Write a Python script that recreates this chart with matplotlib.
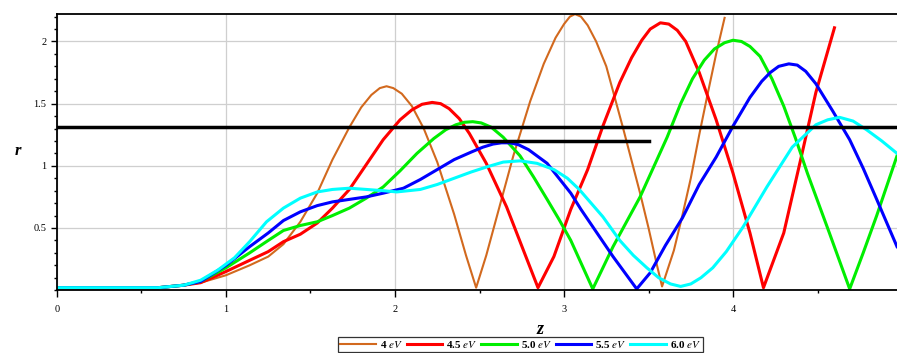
import matplotlib
matplotlib.use("Agg")
import matplotlib.pyplot as plt
from matplotlib.ticker import MultipleLocator

plt.rcParams['font.family'] = ['Liberation Serif', 'DejaVu Serif']
plt.rcParams['mathtext.fontset'] = 'stix'

# readings, z and r for each photon energy
z_40 = [0, 0.6, 0.75, 0.85, 1.0, 1.14, 1.25, 1.34, 1.44, 1.54, 1.63, 1.73, 1.80, 1.86, 1.91,
        1.95, 1.99, 2.04, 2.10, 2.17, 2.25, 2.35, 2.42, 2.48, 2.54, 2.60, 2.70, 2.80, 2.88,
        2.95, 3.00, 3.035, 3.065, 3.10, 3.14, 3.19, 3.25, 3.30, 3.35, 3.40, 3.45, 3.50, 3.55,
        3.58, 3.65, 3.70, 3.75, 3.80, 3.85, 3.90, 3.95]
r_40 = [0.02, 0.02, 0.04, 0.06, 0.12, 0.20, 0.27, 0.37, 0.55, 0.78, 1.05, 1.31, 1.47, 1.57, 1.625,
        1.64, 1.625, 1.58, 1.48, 1.30, 1.03, 0.61, 0.28, 0.02, 0.28, 0.58, 1.08, 1.52, 1.82,
        2.03, 2.14, 2.20, 2.22, 2.20, 2.13, 2.00, 1.80, 1.55, 1.30, 1.04, 0.78, 0.50, 0.20,
        0.03, 0.32, 0.60, 0.90, 1.25, 1.58, 1.90, 2.19]

z_45 = [0, 0.6, 0.75, 0.85, 1.0, 1.14, 1.25, 1.34, 1.44, 1.54, 1.63, 1.73, 1.83, 1.93, 2.03,
        2.10, 2.16, 2.22, 2.27, 2.32, 2.38, 2.44, 2.54, 2.66, 2.76, 2.846, 2.94, 3.04, 3.14,
        3.23, 3.33, 3.40, 3.46, 3.51, 3.57, 3.62, 3.67, 3.72, 3.80, 3.90, 4.00, 4.10, 4.18,
        4.30, 4.40, 4.49, 4.60]
r_45 = [0.02, 0.02, 0.04, 0.06, 0.15, 0.24, 0.31, 0.39, 0.45, 0.54, 0.66, 0.81, 1.01, 1.21, 1.37,
        1.45, 1.495, 1.51, 1.50, 1.46, 1.38, 1.26, 1.02, 0.67, 0.32, 0.02, 0.27, 0.65, 0.97,
        1.32, 1.67, 1.87, 2.01, 2.10, 2.15, 2.14, 2.09, 2.00, 1.75, 1.37, 0.94, 0.46, 0.02,
        0.46, 1.05, 1.59, 2.11]

z_50 = [0, 0.6, 0.75, 0.85, 1.0, 1.14, 1.25, 1.34, 1.44, 1.54, 1.63, 1.73, 1.83, 1.93, 2.03,
        2.13, 2.23, 2.30, 2.36, 2.41, 2.46, 2.51, 2.57, 2.64, 2.74, 2.82, 2.90, 2.97, 3.04,
        3.10, 3.17, 3.29, 3.45, 3.61, 3.69, 3.76, 3.83, 3.89, 3.95, 4.00, 4.05, 4.10, 4.16,
        4.23, 4.30, 4.37, 4.44, 4.57, 4.69, 4.77, 4.85, 4.97]
r_50 = [0.02, 0.02, 0.04, 0.07, 0.18, 0.30, 0.40, 0.48, 0.52, 0.55, 0.60, 0.66, 0.74, 0.83, 0.96,
        1.10, 1.22, 1.29, 1.33, 1.35, 1.355, 1.345, 1.31, 1.23, 1.08, 0.91, 0.73, 0.57, 0.40,
        0.22, 0.01, 0.35, 0.75, 1.23, 1.50, 1.70, 1.85, 1.94, 1.99, 2.01, 2.00, 1.96, 1.88,
        1.70, 1.48, 1.22, 0.94, 0.46, 0.01, 0.30, 0.60, 1.08]

z_55 = [0, 0.6, 0.75, 0.85, 1.0, 1.14, 1.25, 1.34, 1.44, 1.54, 1.63, 1.73, 1.83, 1.93, 2.05,
        2.15, 2.25, 2.35, 2.45, 2.52, 2.58, 2.63, 2.68, 2.73, 2.79, 2.85, 2.90, 2.97, 3.04,
        3.10, 3.17, 3.23, 3.29, 3.36, 3.43, 3.51, 3.60, 3.70, 3.80, 3.90, 4.00, 4.10, 4.17,
        4.22, 4.27, 4.33, 4.38, 4.43, 4.49, 4.59, 4.69, 4.77, 4.85, 4.97]
r_55 = [0.02, 0.02, 0.04, 0.07, 0.20, 0.35, 0.46, 0.56, 0.63, 0.68, 0.71, 0.73, 0.75, 0.78, 0.82,
        0.89, 0.97, 1.05, 1.11, 1.15, 1.175, 1.185, 1.185, 1.17, 1.13, 1.07, 1.02, 0.90, 0.78,
        0.65, 0.51, 0.39, 0.27, 0.14, 0.01, 0.14, 0.36, 0.58, 0.85, 1.07, 1.32, 1.55, 1.68,
        1.75, 1.80, 1.82, 1.81, 1.76, 1.66, 1.44, 1.21, 0.98, 0.73, 0.35]

z_60 = [0, 0.6, 0.75, 0.85, 0.95, 1.05, 1.14, 1.24, 1.34, 1.44, 1.54, 1.63, 1.73, 1.83, 1.93,
        2.01, 2.08, 2.15, 2.25, 2.35, 2.45, 2.54, 2.64, 2.74, 2.84, 2.94, 3.02, 3.09, 3.16,
        3.23, 3.33, 3.41, 3.49, 3.56, 3.63, 3.69, 3.75, 3.81, 3.88, 3.96, 4.06, 4.20, 4.35,
        4.49, 4.56, 4.63, 4.71, 4.79, 4.88, 4.97]
r_60 = [0.02, 0.02, 0.04, 0.08, 0.16, 0.26, 0.39, 0.55, 0.66, 0.74, 0.79, 0.81, 0.82, 0.81, 0.80,
        0.79, 0.80, 0.81, 0.85, 0.90, 0.95, 0.99, 1.03, 1.04, 1.02, 0.97, 0.90, 0.81, 0.70,
        0.59, 0.40, 0.28, 0.18, 0.10, 0.05, 0.03, 0.05, 0.10, 0.18, 0.31, 0.51, 0.83, 1.15,
        1.33, 1.37, 1.39, 1.36, 1.29, 1.20, 1.10]

labels = ["4 $eV$", "4.5 $eV$", "5.0 $eV$", "5.5 $eV$", "6.0 $eV$"]
colors = ["#d2691e", "#ff0000", "#00ee00", "#0000ff", "#00ffff"]

r_level = 1.31
seg_z = [2.5, 3.5]
seg_r = 1.2

fig = plt.figure(figsize=(8.97, 3.53), dpi=100)
ax = fig.add_axes([0.0635, 0.178, 0.9365, 0.782])

series = [(z_40, r_40), (z_45, r_45), (z_50, r_50), (z_55, r_55), (z_60, r_60)]
widths = [1.5, 2.2, 2.2, 2.2, 2.2]
for (zz, rr), lab, c, w in zip(series, labels, colors, widths):
    ax.plot(zz, rr, color=c, lw=w, label=lab, solid_joinstyle="round")

ax.axhline(r_level, color="black", lw=2.5)
ax.plot(seg_z, [seg_r, seg_r], color="black", lw=2.5)

ax.set_xlim(0, 4.97)
ax.set_ylim(0, 2.22)
ax.xaxis.set_major_locator(MultipleLocator(1))
ax.xaxis.set_minor_locator(MultipleLocator(0.5))
ax.yaxis.set_major_locator(MultipleLocator(0.5))
ax.yaxis.set_minor_locator(MultipleLocator(0.1))
ax.set_yticks([0.5, 1, 1.5, 2])
ax.set_yticklabels(["0.5", "1", "1.5", "2"])
ax.tick_params(axis="both", which="both", direction="out", labelsize=7.5, width=1)
ax.tick_params(axis="x", which="major", length=5, pad=6)
ax.tick_params(axis="y", which="major", length=4)
ax.tick_params(which="minor", length=2.5)
ax.grid(True, which="major", color="#cfcfcf", lw=0.9)

for s in ["left", "bottom", "top"]:
    ax.spines[s].set_linewidth(1.3)
ax.spines["right"].set_visible(False)

fig.text(0.016, 0.56, "r", fontsize=12, fontweight="bold", style="italic")
fig.text(0.602, 0.055, "z", fontsize=13, fontweight="bold", style="italic", ha="center")

leg = ax.legend(loc="center", bbox_to_anchor=(0.552, -0.197), ncol=5,
                prop={"size": 8, "weight": "bold"},
                frameon=True, fancybox=False, edgecolor="black", handlelength=3.2,
                handletextpad=0.35, columnspacing=0.35, borderpad=0.2, borderaxespad=0)
leg.get_frame().set_linewidth(0.9)

fig.savefig("out.png", dpi=100)
